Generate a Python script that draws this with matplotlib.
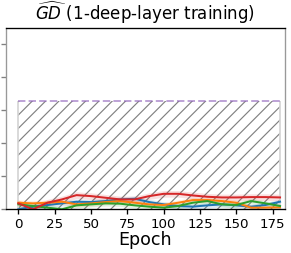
import matplotlib
matplotlib.use('Agg')
import matplotlib.pyplot as plt
import numpy as np

epochs = np.arange(0, 181, 10)

blue = [0.0, 0.08, 0.13, 0.18, 0.23, 0.22, 0.25, 0.30, 0.32, 0.22,
        0.15, 0.10, 0.08, 0.12, 0.15, 0.12, 0.08, 0.13, 0.23]
orange = [0.20, 0.18, 0.20, 0.23, 0.15, 0.18, 0.22, 0.25, 0.20, 0.15,
          0.13, 0.20, 0.28, 0.28, 0.25, 0.20, 0.05, 0.05, 0.06]
green = [0.15, 0.10, 0.05, 0.0, 0.12, 0.15, 0.18, 0.17, 0.12, 0.08,
         0.05, 0.10, 0.20, 0.25, 0.15, 0.13, 0.25, 0.18, 0.10]
red = [0.18, 0.0, 0.20, 0.30, 0.43, 0.40, 0.35, 0.30, 0.30, 0.40,
       0.47, 0.47, 0.42, 0.38, 0.36, 0.36, 0.37, 0.37, 0.36]
spread = [0.08, 0.08, 0.08, 0.10]
series = [blue, orange, green, red]
colors = ['tab:blue', 'tab:orange', 'tab:green', 'tab:red']

bound = 3.29
ytick_vals = [0, 1, 2, 3, 4, 5]
xtick_vals = [0, 25, 50, 75, 100, 125, 150, 175]

plt.rcParams['hatch.linewidth'] = 0.7
fig = plt.figure(figsize=(291 / 120, 253 / 120), dpi=120)
ax = fig.add_axes([6 / 291, 1 - 209.3 / 253, 279 / 291, 181.3 / 253])

# hatched region (hatch takes the edge colour, border drawn separately)
ax.fill_between([epochs[0], epochs[-1]], 0, bound, facecolor='none',
                edgecolor='grey', hatch='///', linewidth=0)
ax.vlines([epochs[0], epochs[-1]], 0, bound, color='lightgrey', lw=1)
ax.plot([epochs[0], epochs[-1]], [bound, bound], '--', color='tab:purple',
        alpha=0.6, lw=1.2)

for vals, s, c in zip(series, spread, colors):
    v = np.array(vals)
    ax.fill_between(epochs, v - s, v + s, color=c, alpha=0.14, lw=0)
    ax.plot(epochs, v, color=c, lw=1.2)

ax.set_xlim(-8.5, 183.4)
ax.set_ylim(0, 5.5)
ax.set_xticks(xtick_vals)
ax.set_yticks(ytick_vals)
ax.set_yticklabels([])
ax.tick_params(axis='x', labelsize=8, length=3, pad=2)
ax.tick_params(axis='y', length=3, color='grey')
for side in ['left', 'right']:
    ax.spines[side].set_color('#999999')
ax.set_xlabel('Epoch', fontsize=10.5, labelpad=0)
ax.set_title(r'$\widehat{GD}$ (1-deep-layer training)', fontsize=10, pad=5)

plt.savefig('out.png', dpi=120)
